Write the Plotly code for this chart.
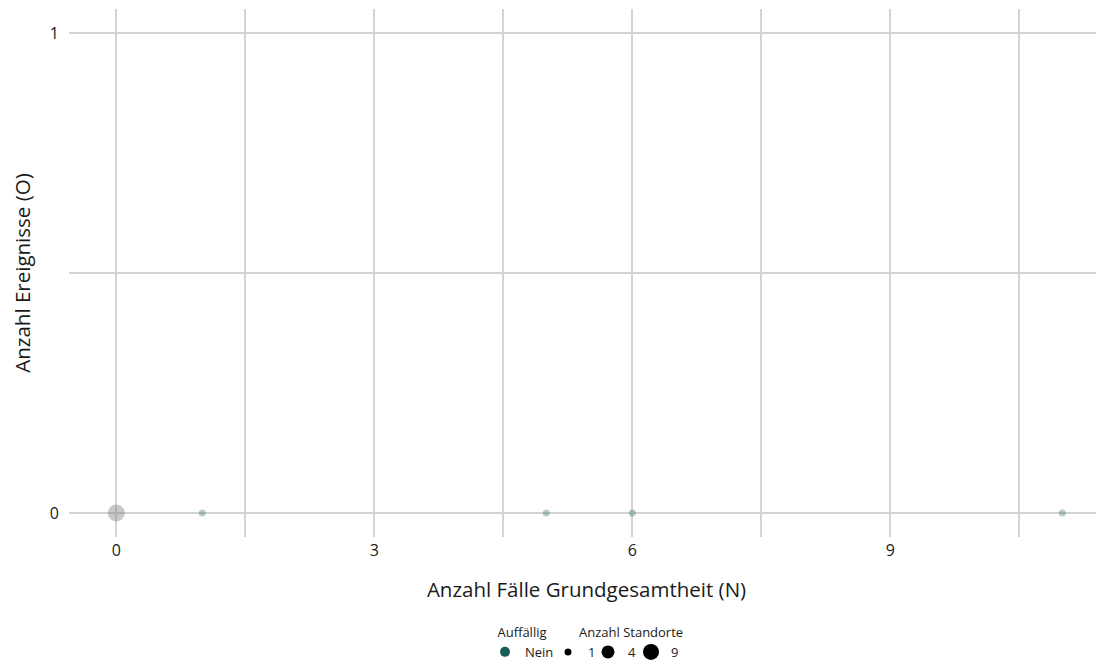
import plotly.graph_objects as go

# ---- data ----
cases_n = [0, 1, 5, 6, 11]          # Anzahl Fälle Grundgesamtheit (N)
events_o = [0, 0, 0, 0, 0]          # Anzahl Ereignisse (O)
sites = [9, 1, 1, 1, 1]             # Anzahl Standorte
flag = [None, "Nein", "Nein", "Nein", "Nein"]   # Auffällig

x_ticks = [0, 3, 6, 9]
y_ticks = [0, 1]
size_breaks = [1, 4, 9]

# ---- styles ----
size_px = {1: 7, 4: 13, 9: 17}
TEAL = "#1b5c59"
GREY = "#7f7f7f"
FONT = "'Open Sans', sans-serif"
TXT = "#1a1a1a"
W, H = 1096, 656   # page body has an 8px margin in the viewer
size_leg_left = [540, 580, 623]   # left edge (px) of each size-legend entry

fig = go.Figure()

na_idx = [i for i, f in enumerate(flag) if f is None]
fig.add_trace(go.Scatter(
    x=[cases_n[i] for i in na_idx], y=[events_o[i] for i in na_idx],
    mode="markers",
    marker=dict(color=GREY, size=[size_px[sites[i]] for i in na_idx], line=dict(width=0)),
    opacity=0.6, showlegend=False, hoverinfo="x+y"))

ne_idx = [i for i, f in enumerate(flag) if f == "Nein"]
fig.add_trace(go.Scatter(
    x=[cases_n[i] for i in ne_idx], y=[events_o[i] for i in ne_idx],
    mode="markers",
    marker=dict(color=TEAL, size=[size_px[sites[i]] for i in ne_idx], line=dict(width=0)),
    opacity=0.45, showlegend=False, hoverinfo="x+y"))

# legend entries
fig.add_trace(go.Scatter(x=[None], y=[None], mode="markers", name="Nein",
                         marker=dict(color=TEAL, size=10), showlegend=True, legend="legend"))
for k, s in enumerate(size_breaks):
    fig.add_trace(go.Scatter(x=[None], y=[None], mode="markers", name=str(s),
                             marker=dict(color="black", size=size_px[s]), showlegend=True,
                             legend="legend" + str(k + 2)))

grid = "#d3d3d3"
fig.update_xaxes(
    range=[-0.55, 11.485], tickvals=x_ticks, showgrid=True, gridcolor=grid, gridwidth=1.5,
    minor=dict(tickvals=[1.5, 4.5, 7.5, 10.5], showgrid=True, gridcolor=grid, gridwidth=1.5, ticks=""),
    zeroline=False, showline=False, ticks="", automargin=False, ticklabelstandoff=2,
    tickfont=dict(size=16, color=TXT),
    title=dict(text="Anzahl Fälle Grundgesamtheit (N)", font=dict(size=20.5, color=TXT), standoff=22),
)
fig.update_yaxes(
    range=[-0.05, 1.05], tickvals=y_ticks, showgrid=True, gridcolor=grid, gridwidth=1.5,
    minor=dict(tickvals=[0.5], showgrid=True, gridcolor=grid, gridwidth=1.5, ticks=""),
    zeroline=False, showline=False, ticks="", automargin=False, ticklabelstandoff=9,
    tickfont=dict(size=16, color=TXT),
    title=dict(text="Anzahl Ereignisse (O)", font=dict(size=20.5, color=TXT), standoff=26),
)

leg_common = dict(orientation="h", xref="container", yref="container",
                  font=dict(size=13, color=TXT), itemsizing="trace", itemwidth=30,
                  bgcolor="rgba(0,0,0,0)")
legends = dict(
    legend=dict(**leg_common, x=514 / W, xanchor="center", y=1 - 612 / H, yanchor="top",
                title=dict(text="Auffällig", side="top center", font=dict(size=13))),
)
for k, left in enumerate(size_leg_left):
    legends["legend" + str(k + 2)] = dict(**leg_common, x=left / W, xanchor="left",
                                          y=1 - 644 / H, yanchor="middle")

fig.update_layout(
    width=W, height=H,
    margin=dict(l=61, r=0, t=1, b=127, autoexpand=False),
    plot_bgcolor="white", paper_bgcolor="white",
    font=dict(family=FONT, color=TXT),
    annotations=[dict(text="Anzahl Standorte", xref="paper", yref="paper",
                      x=(623 - 61) / (W - 61), y=(H - 127 - 624) / (H - 1 - 127),
                      xanchor="center", yanchor="middle",
                      showarrow=False, font=dict(size=13, color=TXT))],
    **legends,
)

fig.write_html("out.html")
